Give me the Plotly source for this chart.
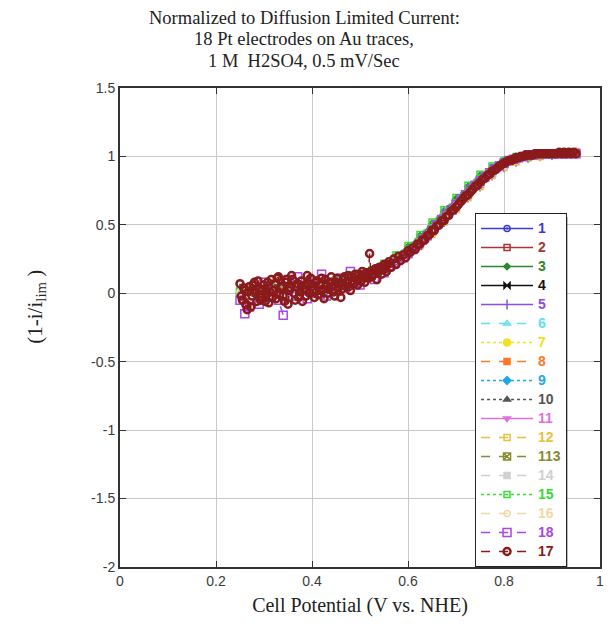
import plotly.graph_objects as go

# ---------------- data ----------------
x_grid = [0.25, 0.275, 0.3, 0.325, 0.35, 0.375, 0.4, 0.425, 0.45, 0.475, 0.5, 0.525, 0.55, 0.575,
          0.6, 0.625, 0.65, 0.675, 0.7, 0.725, 0.75, 0.775, 0.8, 0.825, 0.85, 0.875, 0.9, 0.925, 0.95]

y1 = [0.01, 0.02, 0.03, 0.03, 0.04, 0.05, 0.06, 0.07, 0.09, 0.11, 0.13, 0.16, 0.20, 0.25, 0.31, 0.39, 0.47, 0.56, 0.65, 0.74, 0.82, 0.89, 0.95, 0.98, 1.00, 1.01, 1.02, 1.02, 1.02]
y2 = [0.00, 0.01, 0.02, 0.03, 0.04, 0.05, 0.06, 0.07, 0.08, 0.10, 0.12, 0.15, 0.19, 0.24, 0.30, 0.38, 0.46, 0.55, 0.64, 0.73, 0.81, 0.88, 0.94, 0.98, 1.00, 1.01, 1.02, 1.02, 1.03]
y3 = [0.02, 0.03, 0.04, 0.04, 0.05, 0.06, 0.07, 0.08, 0.10, 0.12, 0.14, 0.17, 0.21, 0.27, 0.34, 0.42, 0.51, 0.60, 0.69, 0.78, 0.86, 0.92, 0.97, 1.00, 1.01, 1.02, 1.02, 1.02, 1.02]
y4 = [0.01, 0.01, 0.02, 0.03, 0.04, 0.04, 0.05, 0.07, 0.08, 0.10, 0.12, 0.15, 0.19, 0.24, 0.30, 0.37, 0.45, 0.54, 0.63, 0.72, 0.80, 0.87, 0.93, 0.97, 0.99, 1.01, 1.01, 1.02, 1.02]
y5 = [0.00, 0.01, 0.02, 0.02, 0.03, 0.04, 0.05, 0.06, 0.08, 0.10, 0.12, 0.15, 0.18, 0.23, 0.29, 0.36, 0.44, 0.52, 0.61, 0.70, 0.78, 0.86, 0.92, 0.96, 0.99, 1.00, 1.01, 1.02, 1.03]
y6 = [0.01, 0.02, 0.02, 0.03, 0.04, 0.05, 0.06, 0.07, 0.09, 0.11, 0.13, 0.16, 0.20, 0.25, 0.31, 0.38, 0.46, 0.55, 0.64, 0.72, 0.81, 0.88, 0.94, 0.97, 1.00, 1.01, 1.02, 1.02, 1.02]
y7 = [0.00, 0.01, 0.02, 0.03, 0.03, 0.04, 0.05, 0.07, 0.08, 0.10, 0.12, 0.15, 0.18, 0.23, 0.29, 0.37, 0.45, 0.53, 0.62, 0.71, 0.79, 0.87, 0.93, 0.97, 0.99, 1.00, 1.01, 1.02, 1.02]
y8 = [0.01, 0.02, 0.03, 0.04, 0.04, 0.05, 0.06, 0.08, 0.09, 0.11, 0.13, 0.16, 0.20, 0.26, 0.32, 0.40, 0.48, 0.57, 0.66, 0.75, 0.83, 0.90, 0.95, 0.99, 1.01, 1.02, 1.02, 1.03, 1.03]
y9 = [0.00, 0.01, 0.02, 0.02, 0.03, 0.04, 0.05, 0.06, 0.08, 0.10, 0.12, 0.14, 0.18, 0.23, 0.29, 0.36, 0.44, 0.53, 0.62, 0.71, 0.79, 0.87, 0.93, 0.97, 0.99, 1.01, 1.01, 1.02, 1.02]
y10 = [0.01, 0.02, 0.03, 0.03, 0.04, 0.05, 0.06, 0.07, 0.09, 0.11, 0.13, 0.16, 0.19, 0.24, 0.30, 0.38, 0.46, 0.55, 0.64, 0.73, 0.81, 0.88, 0.94, 0.98, 1.00, 1.01, 1.02, 1.02, 1.02]
y11 = [0.02, 0.02, 0.03, 0.04, 0.05, 0.05, 0.06, 0.08, 0.09, 0.11, 0.14, 0.17, 0.21, 0.26, 0.33, 0.41, 0.49, 0.58, 0.67, 0.76, 0.84, 0.90, 0.96, 0.99, 1.01, 1.02, 1.02, 1.02, 1.03]
y12 = [0.00, 0.01, 0.01, 0.02, 0.03, 0.04, 0.05, 0.06, 0.08, 0.09, 0.11, 0.14, 0.18, 0.22, 0.28, 0.35, 0.43, 0.52, 0.61, 0.70, 0.78, 0.86, 0.92, 0.96, 0.99, 1.00, 1.01, 1.02, 1.02]
y113 = [0.01, 0.02, 0.02, 0.03, 0.04, 0.05, 0.06, 0.07, 0.08, 0.10, 0.12, 0.15, 0.19, 0.24, 0.30, 0.37, 0.45, 0.54, 0.63, 0.72, 0.80, 0.88, 0.94, 0.98, 1.00, 1.01, 1.02, 1.02, 1.02]
y14 = [0.00, 0.01, 0.02, 0.03, 0.04, 0.04, 0.05, 0.06, 0.08, 0.10, 0.12, 0.15, 0.18, 0.23, 0.29, 0.37, 0.45, 0.54, 0.63, 0.72, 0.80, 0.87, 0.93, 0.97, 1.00, 1.01, 1.01, 1.02, 1.02]
y15 = [0.02, 0.03, 0.03, 0.04, 0.05, 0.06, 0.07, 0.08, 0.10, 0.12, 0.14, 0.17, 0.22, 0.28, 0.35, 0.43, 0.52, 0.61, 0.70, 0.79, 0.87, 0.93, 0.97, 1.00, 1.01, 1.02, 1.02, 1.02, 1.02]
y16 = [0.01, 0.01, 0.02, 0.03, 0.04, 0.05, 0.06, 0.07, 0.09, 0.10, 0.12, 0.15, 0.19, 0.24, 0.30, 0.38, 0.46, 0.55, 0.64, 0.73, 0.81, 0.88, 0.94, 0.98, 1.00, 1.01, 1.02, 1.02, 1.02]

x18 = [0.25, 0.26, 0.27, 0.28, 0.29, 0.30, 0.31, 0.32, 0.33, 0.34, 0.35, 0.36, 0.37, 0.38, 0.39, 0.40,
       0.41, 0.42, 0.43, 0.44, 0.45, 0.46, 0.47, 0.48, 0.49, 0.50, 0.51, 0.52, 0.53, 0.54, 0.55, 0.56,
       0.57, 0.58, 0.59, 0.60, 0.61, 0.62, 0.63, 0.64, 0.65, 0.66, 0.67, 0.68, 0.69, 0.70, 0.71, 0.72,
       0.73, 0.74, 0.75, 0.76, 0.77, 0.78, 0.79, 0.80, 0.81, 0.82, 0.83, 0.84, 0.85, 0.86, 0.87, 0.88,
       0.89, 0.90, 0.91, 0.92, 0.93, 0.94, 0.95]
y18 = [-0.05, -0.15, -0.10, 0.05, -0.08, 0.08, -0.03, 0.02, -0.05, -0.16, 0.10, -0.02, 0.12, 0.03, -0.04, 0.09,
       0.00, 0.14, -0.02, 0.07, 0.02, 0.11, 0.04, 0.16, 0.08, 0.06, 0.13, 0.15, 0.10, 0.18, 0.15, 0.20,
       0.22, 0.24, 0.26, 0.29, 0.32, 0.35, 0.39, 0.42, 0.46, 0.50, 0.54, 0.58, 0.61, 0.65, 0.69, 0.72,
       0.76, 0.79, 0.82, 0.85, 0.88, 0.91, 0.93, 0.95, 0.97, 0.98, 0.99, 1.00, 1.01, 1.01, 1.02, 1.02,
       1.02, 1.02, 1.02, 1.02, 1.02, 1.02, 1.02]

x17 = [0.250, 0.255, 0.260, 0.265, 0.270, 0.275, 0.280, 0.285, 0.290, 0.295, 0.300, 0.305, 0.310, 0.315,
       0.320, 0.325, 0.330, 0.335, 0.340, 0.345, 0.350, 0.355, 0.360, 0.365, 0.370, 0.375, 0.380, 0.385,
       0.390, 0.395, 0.400, 0.405, 0.410, 0.415, 0.420, 0.425, 0.430, 0.435, 0.440, 0.445, 0.450, 0.455,
       0.460, 0.465, 0.470, 0.475, 0.480, 0.485, 0.490, 0.495, 0.500, 0.505, 0.510, 0.515, 0.520, 0.525,
       0.530, 0.535, 0.540, 0.545, 0.550, 0.555, 0.560, 0.565, 0.570, 0.575, 0.580, 0.585, 0.590, 0.595,
       0.600, 0.605, 0.610, 0.615, 0.620, 0.625, 0.630, 0.635, 0.640, 0.645, 0.650, 0.655, 0.660, 0.665,
       0.670, 0.675, 0.680, 0.685, 0.690, 0.695, 0.700, 0.705, 0.710, 0.715, 0.720, 0.725, 0.730, 0.735,
       0.740, 0.745, 0.750, 0.755, 0.760, 0.765, 0.770, 0.775, 0.780, 0.785, 0.790, 0.795, 0.800, 0.805,
       0.810, 0.815, 0.820, 0.825, 0.830, 0.835, 0.840, 0.845, 0.850, 0.855, 0.860, 0.865, 0.870, 0.875,
       0.880, 0.885, 0.890, 0.895, 0.900, 0.905, 0.910, 0.915, 0.920, 0.925, 0.930, 0.935, 0.940, 0.945,
       0.950]
y17 = [0.07, -0.05, 0.02, -0.12, 0.05, -0.02, 0.08, -0.06, 0.03, -0.03, 0.06, 0.00, -0.07, 0.10,
       0.02, -0.04, 0.12, 0.05, -0.02, 0.08, -0.08, 0.04, 0.10, -0.05, 0.07, 0.01, -0.06, 0.06,
       0.13, 0.00, 0.05, -0.03, 0.09, 0.02, 0.11, -0.04, 0.06, 0.03, 0.12, 0.01, 0.08, 0.04,
       -0.03, 0.10, 0.05, 0.13, 0.02, 0.09, 0.14, 0.06, 0.11, 0.16, 0.08, 0.13, 0.29, 0.12,
       0.17, 0.10, 0.19, 0.14, 0.21, 0.16, 0.23, 0.19, 0.25, 0.21, 0.27, 0.24, 0.28, 0.26,
       0.31, 0.30, 0.33, 0.32, 0.36, 0.36, 0.39, 0.39, 0.42, 0.43, 0.46, 0.46, 0.49, 0.50,
       0.53, 0.53, 0.56, 0.57, 0.60, 0.61, 0.63, 0.65, 0.67, 0.69, 0.71, 0.72, 0.74, 0.76,
       0.78, 0.79, 0.81, 0.83, 0.84, 0.86, 0.87, 0.89, 0.90, 0.91, 0.93, 0.94, 0.95, 0.96,
       0.97, 0.97, 0.98, 0.99, 0.99, 1.00, 1.00, 1.01, 1.01, 1.01, 1.01, 1.02, 1.02, 1.02,
       1.02, 1.02, 1.02, 1.02, 1.02, 1.02, 1.02, 1.03, 1.02, 1.03, 1.02, 1.03, 1.02, 1.03,
       1.02]
# extra (interleaved) readings of series 17 in the noisy low-potential region
x17b = [0.2525, 0.2575, 0.2625, 0.2675, 0.2725, 0.2775, 0.2825, 0.2875, 0.2925, 0.2975, 0.3025, 0.3075,
        0.3125, 0.3175, 0.3225, 0.3275, 0.3325, 0.3375, 0.3425, 0.3475, 0.3525, 0.3575, 0.3625, 0.3675,
        0.3725, 0.3775, 0.3825, 0.3875, 0.3925, 0.3975, 0.4025, 0.4075, 0.4125, 0.4175, 0.4225, 0.4275,
        0.4325, 0.4375, 0.4425, 0.4475, 0.4525, 0.4575, 0.4625, 0.4675, 0.4725, 0.4775, 0.4825, 0.4875,
        0.4925, 0.4975, 0.5025, 0.5075, 0.5125, 0.5175, 0.5225, 0.5275, 0.5325, 0.5375, 0.5425, 0.5475,
        0.5525, 0.5575]
y17b = [-0.02, 0.04, -0.08, 0.01, -0.10, 0.06, 0.00, 0.09, -0.05, 0.03, -0.06, 0.08,
        0.01, -0.03, 0.07, 0.11, -0.01, 0.04, -0.06, 0.10, 0.02, 0.13, 0.00, 0.05,
        -0.03, 0.09, 0.03, -0.02, 0.07, 0.11, 0.02, 0.08, -0.01, 0.06, 0.03, 0.10,
        0.00, 0.08, 0.05, -0.02, 0.11, 0.07, 0.03, 0.12, 0.08, 0.05, 0.12, 0.07,
        0.10, 0.14, 0.09, 0.12, 0.15, 0.11, 0.16, 0.14, 0.18, 0.15, 0.17, 0.19,
        0.18, 0.21]

series_names = ["1", "2", "3", "4", "5", "6", "7", "8", "9", "10", "11", "12", "113", "14", "15", "16", "18", "17"]

x_ticks = [0, 0.2, 0.4, 0.6, 0.8, 1]
x_tick_labels = ["0", "0.2", "0.4", "0.6", "0.8", "1"]
y_ticks = [-2, -1.5, -1, -0.5, 0, 0.5, 1, 1.5]
y_tick_labels = ["-2", "-1.5", "-1", "-0.5", "0", "0.5", "1", "1.5"]

title_lines = ["Normalized to Diffusion Limited Current:",
               "18 Pt electrodes on Au traces,",
               "1 M  H2SO4, 0.5 mV/Sec"]

# ---------------- styles ----------------
styles = {
    "1":   dict(color="#3a3ad8", dash="solid", symbol="circle-open-dot", size=6),
    "2":   dict(color="#a83434", dash="solid", symbol="square-open", size=6),
    "3":   dict(color="#2a8a2a", dash="solid", symbol="diamond", size=5),
    "4":   dict(color="#111111", dash="solid", symbol="bowtie", size=6),
    "5":   dict(color="#8a4be8", dash="solid", symbol="line-ns-open", size=7),
    "6":   dict(color="#5ee0f0", dash="dash", symbol="triangle-up-open", size=6),
    "7":   dict(color="#f0e020", dash="dot", symbol="circle", size=7),
    "8":   dict(color="#ff7722", dash="dash", symbol="square", size=6),
    "9":   dict(color="#1fa8e8", dash="dot", symbol="diamond", size=6),
    "10":  dict(color="#555555", dash="dot", symbol="triangle-up", size=6),
    "11":  dict(color="#e070e0", dash="solid", symbol="triangle-down", size=6),
    "12":  dict(color="#e8c040", dash="dash", symbol="square-open", size=6),
    "113": dict(color="#8a8a30", dash="dash", symbol="square-x-open", size=7),
    "14":  dict(color="#d0d0d0", dash="dash", symbol="square-x", size=6),
    "15":  dict(color="#33dd33", dash="dot", symbol="square-open", size=6),
    "16":  dict(color="#f0d8a8", dash="dash", symbol="circle-open", size=6),
    "18":  dict(color="#a848e8", dash="dash", symbol="square-open", size=8),
    "17":  dict(color="#8b1a1a", dash="dash", symbol="circle-open", size=7),
}

pairs17 = sorted(zip(x17 + x17b, y17 + y17b))
data = {
    "1": (x_grid, y1), "2": (x_grid, y2), "3": (x_grid, y3), "4": (x_grid, y4), "5": (x_grid, y5),
    "6": (x_grid, y6), "7": (x_grid, y7), "8": (x_grid, y8), "9": (x_grid, y9), "10": (x_grid, y10),
    "11": (x_grid, y11), "12": (x_grid, y12), "113": (x_grid, y113), "14": (x_grid, y14),
    "15": (x_grid, y15), "16": (x_grid, y16), "18": (x18, y18),
    "17": ([p[0] for p in pairs17], [p[1] for p in pairs17]),
}

fig = go.Figure()
for name in series_names:
    st = styles[name]
    xs, ys = data[name]
    lw = 2.5 if name == "17" else 1.5
    fig.add_trace(go.Scatter(
        x=xs, y=ys, mode="lines+markers",
        name=f"<span style='color:{st['color']};font-size:14px'><b>{name}</b></span>",
        line=dict(color=st["color"], width=1.5, dash=st["dash"]),
        marker=dict(symbol=st["symbol"], size=st["size"], color=st["color"],
                    line=dict(color=st["color"], width=lw)),
    ))

serif = "Liberation Serif, Times New Roman, serif"
sans = "Liberation Sans, Arial, sans-serif"

# page has an 8px body margin: figure is shifted by 8px
W, H = 606, 622
L, R, T, B = 112, 10, 80, 63
pw, ph = W - L - R, H - T - B

def px_to_paper_x(px):
    return (px - 8 - L) / pw

def px_to_paper_y(py):
    return (H - B - (py - 8)) / ph

# legend placement (page pixels)
LEG_LEFT, LEG_TOP = 478, 213
LEG_W, LEG_H = 89, 350

title_annots = [
    dict(text=line, xref="paper", yref="paper",
         x=px_to_paper_x(306), y=px_to_paper_y(cy), xanchor="center", yanchor="middle",
         showarrow=False, font=dict(family=serif, size=18.5, color="#222222"))
    for line, cy in zip(title_lines, [18, 39.5, 61])
]

fig.update_layout(
    width=W, height=H,
    margin=dict(l=L, r=R, t=T, b=B),
    paper_bgcolor="white", plot_bgcolor="white",
    xaxis=dict(
        range=[0, 1], tickvals=x_ticks, ticktext=x_tick_labels,
        showgrid=True, gridcolor="#c8c8c8", gridwidth=1,
        showline=True, linecolor="#333333", linewidth=2, mirror="ticks",
        ticks="inside", ticklen=6, tickcolor="#333333",
        tickfont=dict(family=sans, size=14, color="#3a3a3a"),
        zeroline=False,
        title=dict(text="Cell Potential (V vs. NHE)", font=dict(family=serif, size=20, color="#222222"), standoff=10),
    ),
    yaxis=dict(
        range=[-2, 1.5], tickvals=y_ticks, ticktext=y_tick_labels,
        showgrid=True, gridcolor="#c8c8c8", gridwidth=1,
        showline=True, linecolor="#333333", linewidth=2, mirror="ticks",
        ticks="inside", ticklen=6, tickcolor="#333333",
        tickfont=dict(family=sans, size=14, color="#3a3a3a"),
        zeroline=False,
    ),
    legend=dict(
        x=px_to_paper_x(LEG_LEFT), y=px_to_paper_y(LEG_TOP), xanchor="left", yanchor="top",
        bgcolor="white", bordercolor="#222222", borderwidth=1,
        font=dict(family=sans, size=11),
        tracegroupgap=0, itemwidth=52,
    ),
    shapes=[
        dict(type="rect", xref="paper", yref="paper", layer="above",
             x0=px_to_paper_x(LEG_LEFT + 4), x1=px_to_paper_x(LEG_LEFT + LEG_W + 4),
             y0=px_to_paper_y(LEG_TOP + LEG_H + 4), y1=px_to_paper_y(LEG_TOP + 4),
             fillcolor="black", line=dict(width=0)),
    ],
    annotations=title_annots + [
        dict(text="(1-i/i<sub>lim</sub> )", xref="paper", yref="paper",
             x=px_to_paper_x(35), y=px_to_paper_y(307), xanchor="center", yanchor="middle",
             textangle=-90, showarrow=False,
             font=dict(family=serif, size=21, color="#222222")),
    ],
    showlegend=True,
)

fig.write_html("out.html")
